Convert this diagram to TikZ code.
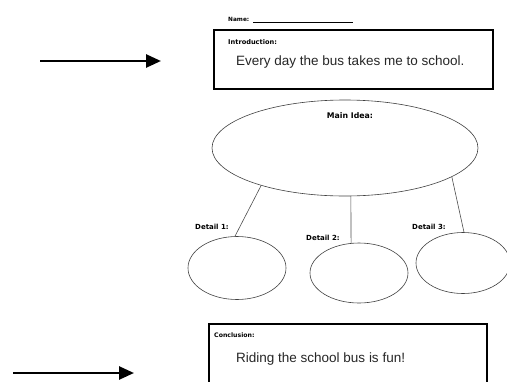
\documentclass[tikz,border=0pt]{standalone}
\usepackage{fontspec}
\setmainfont{Liberation Sans}
\newfontfamily\lbl{DejaVu Sans}
\usetikzlibrary{arrows.meta,shapes.geometric}
\tikzset{
  box/.style={draw=black,line width=2.8pt},
  bubble/.style={draw=black!75,line width=0.6pt,ellipse,inner sep=0pt,outer sep=0pt},
  tag/.style={inner sep=0pt,font=\lbl\bfseries},
  body/.style={inner sep=0pt,font=\fontsize{13.5}{16}\selectfont,text=black!85},
  link/.style={draw=black!70,line width=0.6pt},
  pointer/.style={line width=2.6pt,-{Triangle[length=15pt,width=13pt]}}
}
\begin{document}
\begin{tikzpicture}[x=1pt,y=-1pt]
\useasboundingbox (0,0) rectangle (507,381);
\clip (0,0) rectangle (507,381);
% name
\node[tag,anchor=base west,font=\lbl\bfseries\fontsize{5.8}{7}\selectfont] (name) at (228,21) {Name:};
\coordinate (nl1) at (253,22);
\coordinate (nl2) at (353,22);
\draw[line width=0.5pt] (nl1) -- (nl2);
% intro box
\draw[box] (214,30) rectangle (493,89);
\node[tag,anchor=base west,font=\lbl\bfseries\fontsize{6.6}{8}\selectfont] (intro) at (228,44) {Introduction:};
\node[body,anchor=base west] (introtext) at (236,65) {Every day the bus takes me to school.};
% arrows
\coordinate (a1s) at (40,61);
\coordinate (a1e) at (161,61);
\draw[pointer] (a1s) -- (a1e);
\coordinate (a2s) at (13,373);
\coordinate (a2e) at (134,373);
\draw[pointer] (a2s) -- (a2e);
% main idea
\node[bubble,minimum width=266pt,minimum height=96pt] (main) at (345,148) {};
\node[tag,font=\lbl\bfseries\fontsize{7.8}{9}\selectfont] (mainlbl) at (350,116) {Main Idea:};
% details
\node[bubble,minimum width=98pt,minimum height=63pt] (d1) at (237,268) {};
\node[bubble,minimum width=98pt,minimum height=60pt] (d2) at (359,273) {};
\node[bubble,minimum width=94pt,minimum height=61pt] (d3) at (463,263) {};
\node[tag,anchor=base west,font=\lbl\bfseries\fontsize{7}{8}\selectfont] (l1) at (195,229) {Detail 1:};
\node[tag,anchor=base west,font=\lbl\bfseries\fontsize{7}{8}\selectfont] (l2) at (306,240) {Detail 2:};
\node[tag,anchor=base west,font=\lbl\bfseries\fontsize{7}{8}\selectfont] (l3) at (412,229) {Detail 3:};
\draw[link] (main.204) -- (d1.94);
\draw[link] (main.277) -- (d2.105);
\draw[link] (main.-15) -- (d3.88);
% conclusion box
\draw[box] (209,324) rectangle (487,395);
\node[tag,anchor=base west,font=\lbl\bfseries\fontsize{6.2}{8}\selectfont] (concl) at (214,337) {Conclusion:};
\node[body,anchor=base west] (concltext) at (236,362) {Riding the school bus is fun!};
\end{tikzpicture}
\end{document}
